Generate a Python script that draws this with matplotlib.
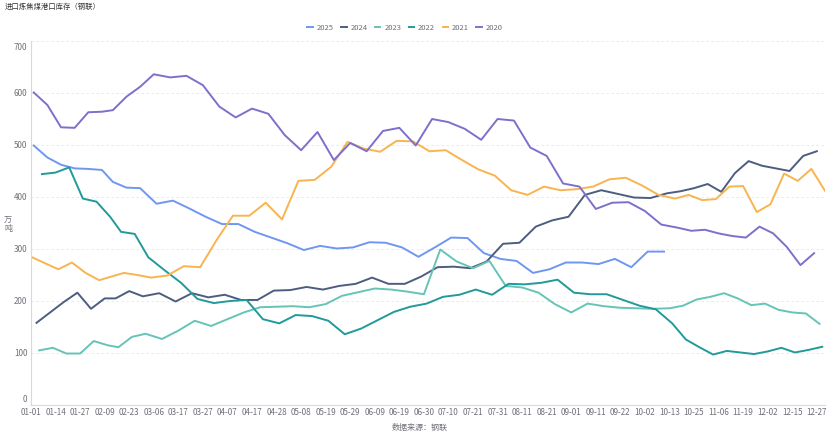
import pandas as pd
import matplotlib
matplotlib.use('Agg')
import matplotlib.pyplot as plt
from matplotlib.transforms import ScaledTranslation

plt.rcParams['font.family'] = ['Noto Sans CJK SC', 'DejaVu Sans']

# Weekly (Friday) port inventory of imported coking coal, 10k tonnes
years = ['2025', '2024', '2023', '2022', '2021', '2020']
colors = ['#6f97f2', '#4d5d80', '#66c4b6', '#22999a', '#f8b44f', '#7d70cd']
starts = {'2025': '2025-01-03', '2024': '2024-01-05', '2023': '2023-01-06',
          '2022': '2022-01-07', '2021': '2021-01-01', '2020': '2020-01-03'}
# weeks with no report
skip_dates = ['2021-02-12']

v2025 = [499, 476, 462, 455, 454, 452, 429, 418, 417, 387, 393, 378, 362, 348,
         348, 333, 322, 311, 298, 306, 301, 303, 313, 312, 303, 285, 303, 322,
         321, 292, 281, 277, 254, 261, 274, 274, 271, 281, 265, 295, 295]
v2024 = [158, 178, 198, 216, 185, 205, 205, 219, 209, 215, 199, 215, 207, 212,
         202, 202, 220, 221, 227, 222, 229, 233, 245, 233, 233, 247, 265, 266,
         263, 276, 310, 312, 343, 355, 362, 404, 413, 406, 399, 398, 407, 411,
         417, 425, 410, 446, 469, 460, 455, 450, 479, 488]
v2023 = [105, 110, 99, 99, 123, 115, 111, 131, 137, 127, 143, 162, 152, 165,
         178, 188, 189, 190, 188, 194, 210, 217, 224, 222, 218, 213, 299, 276,
         263, 277, 229, 226, 216, 194, 178, 195, 190, 187, 186, 185, 186, 191,
         203, 208, 215, 205, 192, 195, 183, 178, 176, 156]
v2022 = [444, 447, 457, 397, 391, 362, 333, 329, 284, 259, 235, 204, 196, 200,
         202, 165, 157, 173, 171, 162, 136, 147, 163, 179, 189, 195, 208, 212,
         222, 212, 233, 232, 235, 241, 216, 213, 213, 202, 191, 184, 157, 126,
         111, 97, 104, 101, 98, 103, 110, 101, 106, 112]
v2021 = [285, 273, 261, 274, 254, 240, 254, 250, 245, 249, 267, 265, 317, 364,
         364, 389, 357, 431, 433, 458, 506, 493, 487, 508, 507, 488, 490, 471,
         453, 441, 413, 404, 420, 413, 415, 420, 434, 437, 422, 404, 397, 404,
         394, 396, 420, 421, 371, 386, 445, 431, 454, 412]
v2020 = [601, 577, 534, 533, 563, 564, 567, 593, 612, 636, 630, 633, 615, 574,
         553, 570, 560, 519, 490, 525, 471, 504, 488, 527, 533, 499, 550, 544,
         531, 510, 550, 547, 495, 479, 426, 420, 377, 389, 390, 373, 347, 341,
         335, 337, 330, 325, 322, 343, 330, 304, 269, 292]

series = {'2025': v2025, '2024': v2024, '2023': v2023,
          '2022': v2022, '2021': v2021, '2020': v2020}

# report dates of each year as mm-dd
skip = pd.to_datetime(skip_dates)
mmdd = {}
for y in years:
    d = pd.date_range(starts[y], y + '-12-31', freq='7D')
    d = d[~d.isin(skip)][:len(series[y])]
    mmdd[y] = list(d.strftime('%m-%d'))

# category axis = all mm-dd found in any year
categories = sorted(set().union(*mmdd.values()))
pos = {c: i for i, c in enumerate(categories)}

fig = plt.figure(figsize=(8.3, 4.32), dpi=100)
ax = fig.add_axes([31 / 830, 1 - 405 / 432, 794 / 830, 364 / 432])

for y, c in zip(years, colors):
    ax.plot([pos[m] for m in mmdd[y]], series[y], color=c, lw=1.4, label=y,
            solid_joinstyle='round')

ax.set_xlim(0, len(categories) - 1)
ax.set_ylim(0, 700)
ax.set_yticks(range(0, 701, 100))
ticks = list(range(0, len(categories), 9))
ax.set_xticks(ticks)
ax.set_xticklabels([categories[i] for i in ticks])

ax.grid(axis='y', color='#e6e6e6', lw=0.6, ls=(0, (3, 3)))
ax.set_axisbelow(True)
for s in ['top', 'right']:
    ax.spines[s].set_visible(False)
for s in ['left', 'bottom']:
    ax.spines[s].set_color('#d9d9d9')
    ax.spines[s].set_linewidth(0.8)
ax.tick_params(length=0, labelsize=5.8, colors='#6e7079')
ax.tick_params(axis='y', pad=2.5)
ax.tick_params(axis='x', pad=2.5)

# the end labels of the value axis sit a little inside the axis
fig.canvas.draw()
ylabels = ax.get_yticklabels()
ylabels[0].set_transform(ylabels[0].get_transform() +
                         ScaledTranslation(0, 6 / 100, fig.dpi_scale_trans))
ylabels[-1].set_transform(ylabels[-1].get_transform() +
                          ScaledTranslation(0, -6 / 100, fig.dpi_scale_trans))

fig.text(5 / 830, 1 - 7 / 432, '进口炼焦煤港口库存（钢联）', fontsize=5.3,
         color='#333333', va='center', ha='left')
fig.text(8 / 830, 1 - 224 / 432, '万\n吨', fontsize=5.8, color='#6e7079',
         va='center', ha='center', linespacing=1.0)
fig.text(420 / 830, 1 - 427 / 432, '数据来源：钢联', fontsize=5.8,
         color='#6e7079', va='center', ha='center')

fig.legend(loc='center', bbox_to_anchor=(405 / 830, 1 - 28 / 432), ncol=6,
           frameon=False, fontsize=5.5, handlelength=0.7, handletextpad=0.5,
           columnspacing=1.0, labelcolor='#6e7079')

fig.savefig('out.png', dpi=100)
